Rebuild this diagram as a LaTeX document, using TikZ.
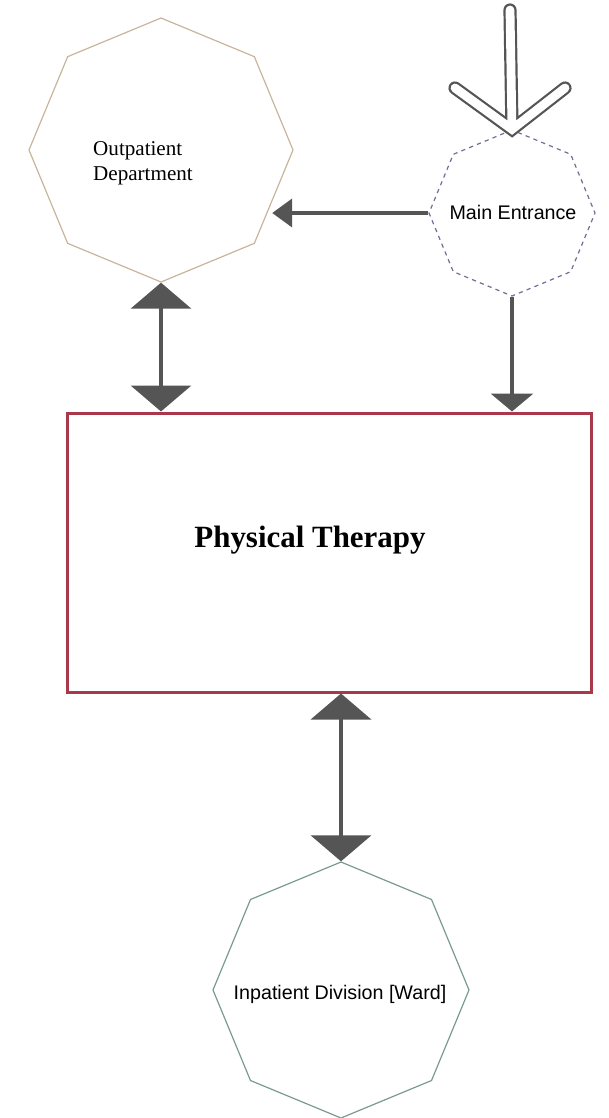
\documentclass[tikz,border=0pt]{standalone}
\usepackage{fontspec}
\setmainfont{Liberation Serif}
\newfontfamily\labelsans{Liberation Sans}
\usetikzlibrary{shapes.geometric,arrows.meta}

\definecolor{arrowgray}{HTML}{555555}
\definecolor{outline}{HTML}{C8B49C}
\definecolor{entryline}{HTML}{6E6E96}
\definecolor{wardline}{HTML}{7A9A8E}
\definecolor{therapyred}{HTML}{A8384A}

\begin{document}
\begin{tikzpicture}[x=0.25mm,y=-0.25mm,line cap=butt,line join=miter,
    octa/.style={regular polygon,regular polygon sides=8,shape border rotate=22.5,
                 draw,line width=0.3mm,inner sep=0pt},
    sanslabel/.style={font=\labelsans\fontsize{14pt}{16pt}\selectfont},
    flow/.style={draw=arrowgray,line width=1mm},
    bighead/.tip={Triangle[width=15mm,length=6.5mm]},
    smallhead/.tip={Triangle[width=10.5mm,length=4.5mm]},
    sidehead/.tip={Triangle[width=7mm,length=5mm]},
    hollow/.style={draw=arrowgray,line width=0.55mm,double=white,double distance=2.2mm,line cap=round}]
% ---- 区域（位图像素坐标，原点=左上角，y 向下） ----
\node[octa,draw=outline,minimum size=66mm] (out) at (161,150) {};
\node[octa,draw=entryline,dashed,minimum size=41.5mm] (main) at (512,213) {};
\node[draw=therapyred,line width=0.75mm,minimum width=130.75mm,minimum height=69.75mm] (pt) at (329.5,552.5) {};
\node[octa,draw=wardline,minimum size=64mm] (ward) at (341,990) {};
% ---- 文字 ----
\node[align=left,font=\fontsize{15pt}{17.7pt}\selectfont] (outtext) at (143,163) {Outpatient\\Department};
\node[sanslabel] (maintext) at (513,212) {Main Entrance};
\node[font=\bfseries\fontsize{22pt}{26pt}\selectfont] (pttext) at (310,540) {Physical Therapy};
\node[sanslabel] (wardtext) at (340,994) {Inpatient Division [Ward]};
% ---- 入口的空心箭头 ----
\coordinate (door) at (510,10);
\draw[hollow] (455,88) -- (main.north) -- (565,88) (main.north) -- (door);
% ---- 连线 ----
\draw[flow,bighead-bighead] (out.south) -- (out.south |- pt.north);
\draw[flow,-smallhead] (main.south) -- (main.south |- pt.north);
\draw[flow,-sidehead] (main.west) -- (main.west -| out.-25);
\draw[flow,bighead-bighead] (ward.north |- pt.south) -- (ward.north);
% ---- 画布 608x1118 ----
\pgfresetboundingbox
\path[use as bounding box] (0,0) rectangle (608,1118);
\end{tikzpicture}
\end{document}
